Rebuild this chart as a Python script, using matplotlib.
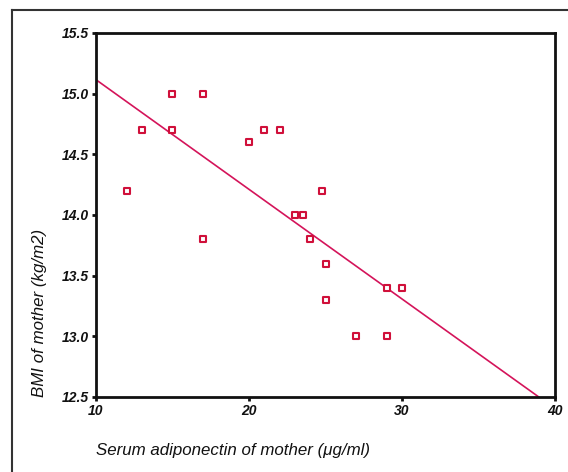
import numpy as np
import matplotlib
matplotlib.use("Agg")
import matplotlib.pyplot as plt
from matplotlib.lines import Line2D

# data
adiponectin = [12, 13, 15, 15, 17, 17, 20, 21, 22, 23, 23.5, 24, 24.8, 25, 25, 27, 29, 29, 30]
bmi = [14.2, 14.7, 15.0, 14.7, 15.0, 13.8, 14.6, 14.7, 14.7, 14.0, 14.0, 13.8, 14.2, 13.6, 13.3, 13.0, 13.0, 13.4, 13.4]
x_ticks = [10, 20, 30, 40]
y_ticks = [12.5, 13.0, 13.5, 14.0, 14.5, 15.0, 15.5]

red = "#d0103a"
W, H = 568, 472

fig = plt.figure(figsize=(W / 100, H / 100), dpi=100)
ax = fig.add_axes([96 / W, 1 - 397 / H, (555 - 96) / W, (397 - 33) / H])

ax.scatter(adiponectin, bmi, marker="s", s=22, facecolors="white",
           edgecolors=red, linewidths=1.5, zorder=3)

# least squares line
slope, intercept = np.polyfit(adiponectin, bmi, 1)
xs = np.array([10, 40])
ax.plot(xs, intercept + slope * xs, color="#d4145a", lw=1.2, zorder=2)

ax.set_xlim(10, 40)
ax.set_ylim(12.5, 15.5)
ax.set_xticks(x_ticks)
ax.set_yticks(y_ticks)
ax.set_xticklabels([str(t) for t in x_ticks])
ax.set_yticklabels([f"{t:.1f}" for t in y_ticks])
for lab in ax.get_xticklabels() + ax.get_yticklabels():
    lab.set_fontfamily("Liberation Sans")
    lab.set_fontstyle("italic")
    lab.set_fontweight("bold")
    lab.set_fontsize(10)
    lab.set_color("#222222")
ax.tick_params(direction="out", length=3, width=2, pad=2, colors="#111111")
for sp in ax.spines.values():
    sp.set_linewidth(2)
    sp.set_color("#111111")

fig.text(96 / W, 1 - 450 / H, "Serum adiponectin of mother (\u03bcg/ml)",
         fontfamily="Liberation Sans", fontstyle="italic", fontsize=12.2,
         ha="left", va="center", color="#111111")
fig.text(40 / W, 1 - 397 / H, "BMI of mother (kg/m2)",
         fontfamily="Liberation Sans", fontstyle="italic", fontsize=12.2,
         rotation=90, ha="center", va="bottom", color="#111111")

# outer frame (left and top edges)
fig.add_artist(Line2D([12 / W, 12 / W], [0, 1 - 10 / H], transform=fig.transFigure,
                      color="#333333", lw=1.5))
fig.add_artist(Line2D([12 / W, 1], [1 - 10 / H, 1 - 10 / H], transform=fig.transFigure,
                      color="#333333", lw=1.5))

fig.savefig("out.png", dpi=100)
